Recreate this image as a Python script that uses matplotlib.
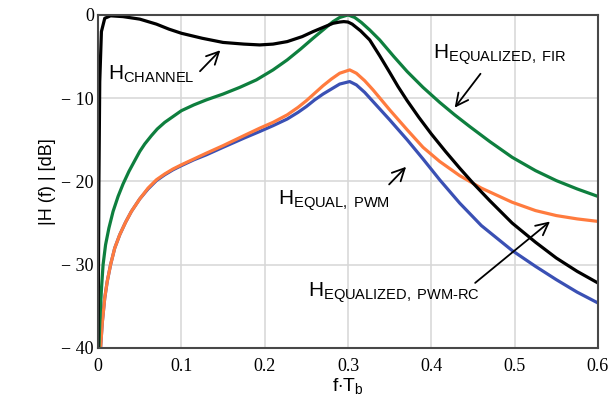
import numpy as np
import matplotlib.pyplot as plt

plt.rcParams['mathtext.fontset'] = 'custom'
plt.rcParams['mathtext.rm'] = 'Liberation Sans'
plt.rcParams['mathtext.it'] = 'Liberation Sans'

# Datos (f*Tb, dB)
x_canal = [0, 0.001, 0.002, 0.004, 0.008, 0.015, 0.03, 0.05, 0.07, 0.085, 0.1, 0.125, 0.15,
           0.175, 0.194, 0.21, 0.227, 0.245, 0.258, 0.27, 0.282, 0.29, 0.295, 0.3, 0.305,
           0.315, 0.326, 0.338, 0.35, 0.36, 0.371, 0.385, 0.4, 0.417, 0.434, 0.45, 0.47,
           0.497, 0.525, 0.55, 0.575, 0.6]
y_canal = [-40, -20, -8, -2, -0.4, -0.1, -0.2, -0.5, -1.1, -1.7, -2.2, -2.8, -3.3,
           -3.5, -3.6, -3.5, -3.2, -2.6, -2.0, -1.5, -1.0, -0.85, -0.8, -0.85, -1.1,
           -1.9, -3.0, -4.9, -6.9, -8.6, -10.3, -12.3, -14.3, -16.4, -18.4, -20.2, -22.3,
           -25.0, -27.3, -29.2, -30.8, -32.2]

x_fir = [0.001, 0.002, 0.004, 0.006, 0.009, 0.013, 0.018, 0.024, 0.03, 0.037, 0.044, 0.05,
         0.056, 0.064, 0.071, 0.08, 0.09, 0.1, 0.115, 0.13, 0.15, 0.17, 0.19, 0.21, 0.227,
         0.243, 0.258, 0.27, 0.282, 0.29, 0.3, 0.308, 0.316, 0.326, 0.338, 0.355, 0.371,
         0.39, 0.41, 0.428, 0.446, 0.47, 0.497, 0.525, 0.55, 0.575, 0.6]
y_fir = [-40, -37, -33, -30, -27.6, -25.6, -23.6, -21.8, -20.3, -18.8, -17.5, -16.4,
         -15.5, -14.5, -13.7, -12.9, -12.2, -11.5, -10.8, -10.2, -9.5, -8.7, -7.8, -6.6, -5.4,
         -4.1, -2.8, -1.8, -0.8, -0.3, 0, -0.3, -0.9, -1.8, -3.0, -5.0, -6.8,
         -8.7, -10.5, -12.0, -13.4, -15.2, -17.1, -18.7, -19.9, -20.9, -21.8]

x_pwm = [0.003, 0.005, 0.008, 0.011, 0.015, 0.02, 0.026, 0.033, 0.04, 0.05, 0.06, 0.07,
         0.08, 0.09, 0.1, 0.115, 0.13, 0.15, 0.175, 0.194, 0.21, 0.227, 0.24, 0.25, 0.26,
         0.27, 0.28, 0.29, 0.302, 0.31, 0.32, 0.33, 0.34, 0.35, 0.371, 0.39, 0.41, 0.434,
         0.46, 0.497, 0.525, 0.55, 0.575, 0.6]
y_pwm = [-40, -37, -34, -32, -30, -28, -26.4, -24.9, -23.6, -22.1, -20.8, -19.8,
         -19.1, -18.5, -18.0, -17.3, -16.6, -15.7, -14.5, -13.6, -12.9, -12.0, -11.1, -10.3, -9.4,
         -8.5, -7.7, -7.0, -6.6, -7.0, -7.9, -9.0, -10.2, -11.4, -13.8, -15.9, -17.6, -19.3,
         -20.8, -22.5, -23.5, -24.1, -24.5, -24.8]

x_rc = [0.003, 0.005, 0.008, 0.011, 0.015, 0.02, 0.026, 0.033, 0.04, 0.05, 0.06, 0.07,
        0.08, 0.09, 0.1, 0.115, 0.13, 0.15, 0.175, 0.194, 0.21, 0.227, 0.24, 0.25, 0.26,
        0.27, 0.28, 0.29, 0.302, 0.31, 0.32, 0.33, 0.34, 0.35, 0.371, 0.39, 0.41, 0.434,
        0.46, 0.497, 0.525, 0.55, 0.575, 0.6]
y_rc = [-40, -37, -34, -32, -30, -28, -26.4, -24.9, -23.6, -22.1, -20.9, -19.9,
        -19.2, -18.6, -18.1, -17.4, -16.8, -15.9, -14.8, -14.0, -13.3, -12.5, -11.7, -11.0, -10.2,
        -9.5, -8.9, -8.3, -8.0, -8.4, -9.3, -10.4, -11.5, -12.6, -15.0, -17.3, -19.8, -22.6,
        -25.3, -28.3, -30.2, -31.8, -33.3, -34.6]

xticks = [0, 0.1, 0.2, 0.3, 0.4, 0.5, 0.6]
xticklabels = ['0', '0.1', '0.2', '0.3', '0.4', '0.5', '0.6']
yticks = [0, -10, -20, -30, -40]
yticklabels = ['0', '\u2212 10', '\u2212 20', '\u2212 30', '\u2212 40']

fig = plt.figure(figsize=(6.13, 3.99), dpi=100)
ax = fig.add_axes([0.160, 0.128, 0.8155, 0.8345])

ax.plot(x_rc, y_rc, color='#3a50b4', lw=2.3)
ax.plot(x_pwm, y_pwm, color='#ff7b3e', lw=2.3)
ax.plot(x_fir, y_fir, color='#0e7f3e', lw=2.3)
ax.plot(x_canal, y_canal, color='black', lw=2.3)

ax.set_xlim(0, 0.6)
ax.set_ylim(-40, 0)
ax.set_xticks(xticks)
ax.set_xticklabels(xticklabels, family='Liberation Serif', fontsize=13)
ax.set_yticks(yticks)
ax.set_yticklabels(yticklabels, family='Liberation Serif', fontsize=13)
ax.tick_params(length=0)
ax.tick_params(axis='x', pad=7)
ax.tick_params(axis='y', pad=3)
ax.grid(True, color='#d6d6d6', lw=1.1)
ax.set_axisbelow(True)
for s in ax.spines.values():
    s.set_color('#484848')
    s.set_linewidth(1.5)

ax.set_xlabel(r'f$\cdot$T$_\mathrm{b}$', family='Liberation Sans', fontsize=14, labelpad=1)
ax.set_ylabel('|H (f) | [dB]', family='Liberation Sans', fontsize=13, labelpad=4)

# Etiquetas con flechas
flecha = dict(arrowstyle='->', color='black', lw=1.3, mutation_scale=22)
ax.text(0.012, -7.8, r'H$_\mathrm{CHANNEL}$', family='Liberation Sans', fontsize=15, va='baseline')
ax.annotate('', xy=(0.149, -4.0), xytext=(0.12, -7.0), arrowprops=flecha)
ax.text(0.402, -5.2, r'H$_\mathrm{EQUALIZED,\ FIR}$', family='Liberation Sans', fontsize=15, va='baseline')
ax.annotate('', xy=(0.426, -11.4), xytext=(0.461, -6.8), arrowprops=flecha)
ax.text(0.216, -22.8, r'H$_\mathrm{EQUAL,\ PWM}$', family='Liberation Sans', fontsize=15, va='baseline')
ax.annotate('', xy=(0.372, -18.0), xytext=(0.347, -20.6), arrowprops=flecha)
ax.text(0.252, -33.8, r'H$_\mathrm{EQUALIZED,\ PWM\text{-}RC}$', family='Liberation Sans', fontsize=15, va='baseline')
ax.annotate('', xy=(0.545, -24.6), xytext=(0.45, -32.4), arrowprops=flecha)

fig.savefig('out.png', dpi=100)
